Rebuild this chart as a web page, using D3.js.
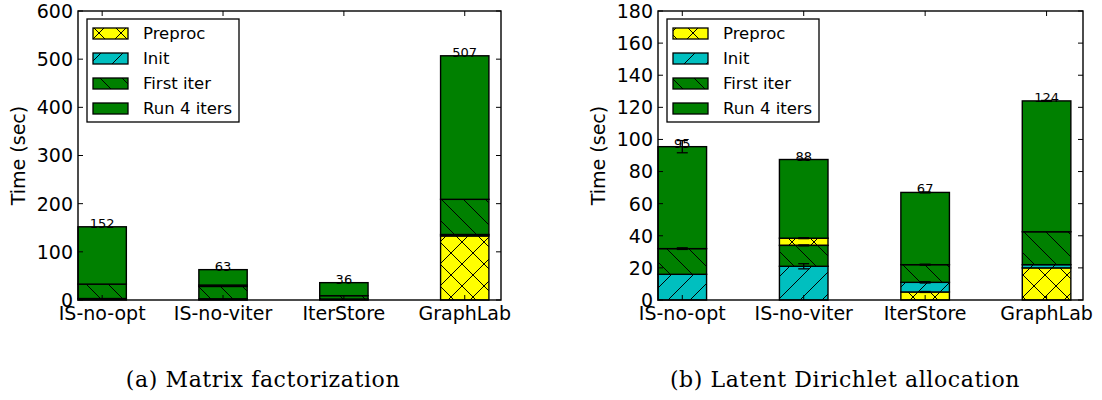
<!DOCTYPE html>
<html>
<head>
<meta charset="utf-8">
<script src="https://cdn.jsdelivr.net/npm/d3@7"></script>
<style>
  body { margin: 0; background: #fff; }
  svg { display: block; }
  text { font-family: "DejaVu Sans", sans-serif; }
  .caption { font-family: "DejaVu Serif", serif; }
</style>
</head>
<body>
<svg id="chart" width="1102" height="400"></svg>
<script>
// categories and series (shared by both panels)
const categories = ["IS-no-opt", "IS-no-viter", "IterStore", "GraphLab"];
const seriesNames = ["Preproc", "Init", "First iter", "Run 4 iters"];

// (a) matrix factorization: [bottom, top] of every segment, per category
const mfPreproc = [[0, 0], [28, 31], [0, 1], [0, 133]];
const mfInit = [[0, 3], [0, 2.5], [1, 2], [133, 136]];
const mfFirst = [[3, 33], [2.5, 28], [2, 9], [136, 209]];
const mfRun = [[33, 152], [31, 63], [9, 36], [209, 507]];
const mfTotals = [152, 63, 36, 507];
const mfTicks = [0, 100, 200, 300, 400, 500, 600];

// (b) latent dirichlet allocation
const ldaPreproc = [[0, 0], [34, 38.5], [0, 5], [0, 20]];
const ldaInit = [[0, 16], [0, 21], [5, 11], [20, 22]];
const ldaFirst = [[16, 32], [21, 34], [11, 22], [22, 42.5]];
const ldaRun = [[32, 95.5], [38.5, 87.5], [22, 67], [42.5, 124]];
const ldaTotals = [95, 88, 67, 124];
const ldaTicks = [0, 20, 40, 60, 80, 100, 120, 140, 160, 180];
// error bar half widths at the top of each segment
const ldaPreprocErr = [0, 0.3, 0.3, 0];
const ldaInitErr = [0, 1.6, 0.4, 0];
const ldaFirstErr = [0.5, 0.3, 0.3, 0];
const ldaRunErr = [3.8, 0.3, 0.3, 0.3];

const colors = ["#ffff00", "#00bfbf", "#008000", "#008000"];
const hatches = ["x", "/", "\\", null];

const svg = d3.select("#chart");
const defs = svg.append("defs");

// hatch patterns, one per hatched series
const hs = 22;
hatches.forEach((h, i) => {
  if (!h) return;
  const p = defs.append("pattern")
    .attr("id", "hatch" + i)
    .attr("patternUnits", "userSpaceOnUse")
    .attr("width", hs).attr("height", hs);
  p.append("rect").attr("width", hs).attr("height", hs).attr("fill", colors[i]);
  const up = [[-hs / 2, hs / 2, hs / 2, -hs / 2], [0, hs, hs, 0], [hs / 2, hs * 1.5, hs * 1.5, hs / 2]];
  const down = [[-hs / 2, hs / 2, hs / 2, hs * 1.5], [0, 0, hs, hs], [hs / 2, -hs / 2, hs * 1.5, hs / 2]];
  let lines = [];
  if (h === "/" || h === "x") lines = lines.concat(up);
  if (h === "\\" || h === "x") lines = lines.concat(down);
  lines.forEach(l => {
    p.append("line")
      .attr("x1", l[0]).attr("y1", l[1]).attr("x2", l[2]).attr("y2", l[3])
      .attr("stroke", "#000").attr("stroke-width", 1);
  });
});

function fillFor(i) {
  return hatches[i] ? "url(#hatch" + i + ")" : colors[i];
}

function drawPanel(opts) {
  const left = opts.left, right = opts.right, top = 11, bottom = 300;
  const x = d3.scaleLinear().domain([0, 3.5]).range([left, right]);
  const y = d3.scaleLinear().domain([0, opts.ticks[opts.ticks.length - 1]]).range([bottom, top]);
  const barW = 0.4;
  const g = svg.append("g");

  // segments, drawn series by series
  opts.series.forEach((segs, si) => {
    g.selectAll(null)
      .data(segs.map((s, ci) => ({ s: s, ci: ci })).filter(d => d.s[1] > d.s[0]))
      .enter()
      .append("rect")
      .attr("x", d => x(d.ci))
      .attr("width", x(barW) - x(0))
      .attr("y", d => y(d.s[1]))
      .attr("height", d => y(d.s[0]) - y(d.s[1]))
      .attr("fill", fillFor(si))
      .attr("stroke", "#000")
      .attr("stroke-width", 1.4);
  });

  // error bars
  if (opts.errors) {
    opts.errors.forEach((errs, si) => {
      errs.forEach((e, ci) => {
        if (!e) return;
        const v = opts.series[si][ci][1];
        const cx = x(ci + barW / 2);
        g.append("line").attr("x1", cx).attr("x2", cx)
          .attr("y1", y(v - e)).attr("y2", y(v + e))
          .attr("stroke", "#000").attr("stroke-width", 1.3);
        [v - e, v + e].forEach(c => {
          g.append("line").attr("x1", cx - 5.5).attr("x2", cx + 5.5)
            .attr("y1", y(c)).attr("y2", y(c))
            .attr("stroke", "#000").attr("stroke-width", 1.3);
        });
      });
    });
  }

  // totals above bars
  g.selectAll(null)
    .data(opts.totals)
    .enter()
    .append("text")
    .attr("x", (d, i) => x(i + barW / 2))
    .attr("y", (d, i) => y(opts.series[3][i][1]) + 1)
    .attr("text-anchor", "middle")
    .attr("fill", "#000")
    .style("font-size", "13px")
    .text(d => d);

  // frame
  g.append("rect")
    .attr("x", left).attr("y", top)
    .attr("width", right - left).attr("height", bottom - top)
    .attr("fill", "none").attr("stroke", "#000").attr("stroke-width", 1.4);

  // y ticks, inward on both sides
  const tl = 5;
  opts.ticks.forEach(t => {
    g.append("line").attr("x1", left).attr("x2", left + tl)
      .attr("y1", y(t)).attr("y2", y(t)).attr("stroke", "#000");
    g.append("line").attr("x1", right).attr("x2", right - tl)
      .attr("y1", y(t)).attr("y2", y(t)).attr("stroke", "#000");
    g.append("text")
      .attr("x", left - 5).attr("y", y(t))
      .attr("dy", "0.36em")
      .attr("text-anchor", "end")
      .style("font-size", "19px")
      .text(t);
  });

  // x ticks at the bar centres
  categories.forEach((c, i) => {
    const cx = x(i + barW / 2);
    g.append("line").attr("x1", cx).attr("x2", cx)
      .attr("y1", bottom).attr("y2", bottom - tl).attr("stroke", "#000");
    g.append("line").attr("x1", cx).attr("x2", cx)
      .attr("y1", top).attr("y2", top + tl).attr("stroke", "#000");
    g.append("text")
      .attr("x", cx).attr("y", 320)
      .attr("text-anchor", "middle")
      .style("font-size", "19px")
      .text(c);
  });

  g.append("text")
    .attr("transform", "translate(" + (left - 53) + "," + ((top + bottom) / 2) + ") rotate(-90)")
    .attr("text-anchor", "middle")
    .style("font-size", "19px")
    .text("Time (sec)");

  // legend
  const lx = left + 9, ly = 19;
  const lg = g.append("g");
  lg.append("rect")
    .attr("x", lx).attr("y", ly).attr("width", 152).attr("height", 103)
    .attr("fill", "#fff").attr("stroke", "#000").attr("stroke-width", 1.3);
  seriesNames.forEach((n, i) => {
    lg.append("rect")
      .attr("x", lx + 6).attr("y", ly + 9 + 25 * i)
      .attr("width", 35).attr("height", 11)
      .attr("fill", fillFor(i)).attr("stroke", "#000").attr("stroke-width", 1.3);
    lg.append("text")
      .attr("x", lx + 56).attr("y", ly + 20 + 25 * i)
      .style("font-size", "16.5px")
      .text(n);
  });

  svg.append("text")
    .attr("class", "caption")
    .attr("x", opts.captionX).attr("y", 387)
    .attr("text-anchor", "middle")
    .style("font-size", "22px")
    .style("letter-spacing", "0.6px")
    .text(opts.caption);
}

drawPanel({
  left: 78, right: 501,
  series: [mfPreproc, mfInit, mfFirst, mfRun],
  totals: mfTotals, ticks: mfTicks,
  caption: "(a) Matrix factorization", captionX: 263
});

drawPanel({
  left: 658, right: 1083,
  series: [ldaPreproc, ldaInit, ldaFirst, ldaRun],
  errors: [ldaPreprocErr, ldaInitErr, ldaFirstErr, ldaRunErr],
  totals: ldaTotals, ticks: ldaTicks,
  caption: "(b) Latent Dirichlet allocation", captionX: 845
});
</script>
</body>
</html>
